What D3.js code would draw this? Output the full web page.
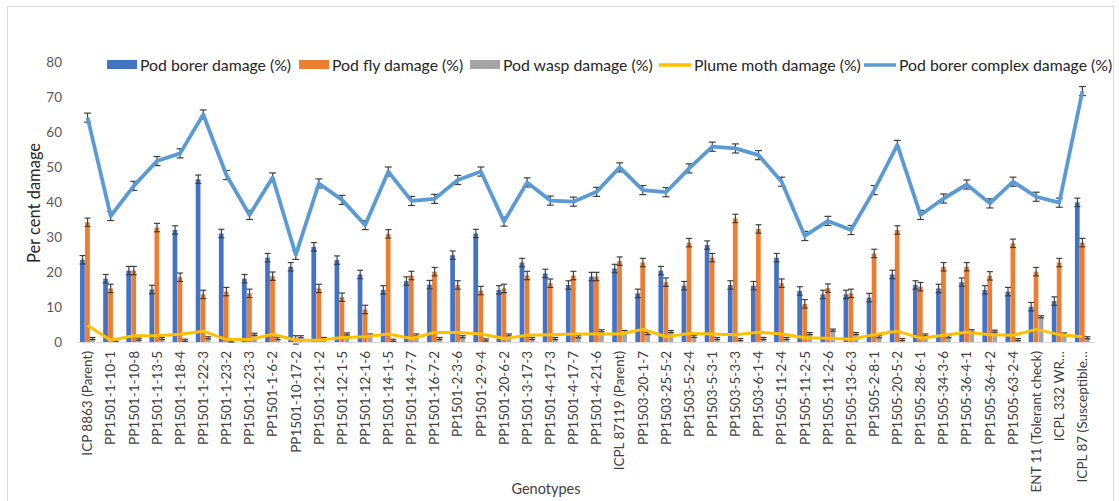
<!DOCTYPE html>
<html><head><meta charset="utf-8">
<script src="https://cdn.jsdelivr.net/npm/d3@7"></script>
<style>body{margin:0;background:#fff}svg{display:block}text{font-family:Lato,"Open Sans",sans-serif}</style>
</head><body><svg id="c" width="1119" height="501"></svg>
<script>
const categories = ["ICP 8863 (Parent)","PP1501-1-10-1","PP1501-1-10-8","PP1501-1-13-5","PP1501-1-18-4","PP1501-1-22-3","PP1501-1-23-2","PP1501-1-23-3","PP1501-1-6-2","PP1501-10-17-2","PP1501-12-1-2","PP1501-12-1-5","PP1501-12-1-6","PP1501-14-1-5","PP1501-14-7-7","PP1501-16-7-2","PP1501-2-3-6","PP1501-2-9-4","PP1501-20-6-2","PP1501-3-17-3","PP1501-4-17-3","PP1501-4-17-7","PP1501-4-21-6","ICPL 87119 (Parent)","PP1503-20-1-7","PP1503-25-5-2","PP1503-5-2-4","PP1503-5-3-1","PP1503-5-3-3","PP1503-6-1-4","PP1505-11-2-4","PP1505-11-2-5","PP1505-11-2-6","PP1505-13-6-3","PP1505-2-8-1","PP1505-20-5-2","PP1505-28-6-1","PP1505-34-3-6","PP1505-36-4-1","PP1505-36-4-2","PP1505-63-2-4","ENT 11 (Tolerant check)","ICPL 332 WR…","ICPL 87 (Susceptible…"];
const podBorer = [23.5,18.1,20.4,15.0,32.0,46.5,31.0,18.1,24.1,21.5,27.2,23.4,19.3,14.9,17.4,16.4,24.8,31.0,14.9,22.7,19.6,16.3,18.7,21.0,13.9,20.4,16.1,27.7,16.3,16.1,24.1,14.6,13.6,13.6,12.7,19.3,16.3,15.3,17.1,14.9,14.4,10.1,11.7,39.9];
const podFly = [34.2,15.3,20.4,32.7,18.5,13.6,14.4,13.9,18.8,0.6,15.3,12.8,9.3,30.9,19.0,20.1,16.3,14.7,15.3,19.0,16.8,19.0,18.7,23.1,22.7,17.1,28.4,24.1,35.3,32.3,16.8,10.9,15.4,13.9,25.3,32.0,15.8,21.5,21.5,18.9,28.2,20.1,22.7,28.4];
const podWasp = [1.0,0.5,0.8,1.0,0.5,1.2,0.3,2.2,1.0,1.5,1.0,2.3,2.0,0.5,2.0,1.0,1.5,0.6,2.0,1.0,1.0,1.5,3.2,3.0,2.4,3.0,1.6,1.0,0.7,1.0,1.0,2.4,3.4,2.4,1.5,0.7,2.0,1.5,3.2,3.1,0.7,7.2,2.3,1.2];
const plumeMoth = [4.7,0.5,1.8,1.8,2.2,3.1,0.7,0.7,2.2,0.5,0.5,1.3,1.5,2.3,1.0,2.7,2.7,2.3,1.0,1.9,2.1,2.3,2.3,2.3,3.6,1.5,2.4,2.3,2.1,2.8,2.3,1.2,1.1,0.8,2.1,3.1,1.1,1.9,2.8,2.1,1.9,3.6,2.1,1.5];
const podBorerComplex = [64.1,36.0,44.6,51.7,53.9,65.0,47.7,36.3,47.0,24.9,45.3,40.6,33.4,48.7,40.3,40.9,46.3,48.7,34.4,45.6,40.4,40.1,42.9,49.9,43.4,42.8,49.6,55.8,55.3,53.4,45.8,30.3,34.6,32.0,43.4,56.3,36.3,41.0,45.0,39.6,45.8,41.5,39.8,71.7];
const seriesErrors = {borer:1.2, fly:1.2, wasp:0.3, complex:1.3};
const yTicks = [0,10,20,30,40,50,60,70,80];
const seriesNames = ["Pod borer damage (%)","Pod fly damage (%)","Pod wasp damage (%)","Plume moth damage (%)","Pod borer complex damage (%)"];
const colors = ["#4472C4","#ED7D31","#A5A5A5","#FFC000","#5B9BD5"];

const svg = d3.select("#c");
svg.append("rect").attr("x",7.5).attr("y",6.5).attr("width",1106).attr("height",520).attr("fill","none").attr("stroke","#d9d9d9");

const x = d3.scaleBand().domain(categories).range([76,1094]).paddingInner(0).paddingOuter(0);
const y = d3.scaleLinear().domain([0,80]).range([342,62]);
const barKeys = ["borer","fly","wasp"];
const xs = d3.scaleBand().domain(barKeys).range([0,x.bandwidth()]).paddingInner(0).paddingOuter(0.81);
const barData = {borer:podBorer, fly:podFly, wasp:podWasp};

const ya = svg.append("g").attr("transform","translate(70,0)").call(d3.axisLeft(y).tickValues(yTicks).tickSize(0).tickPadding(8));
ya.select(".domain").remove();
ya.selectAll("text").attr("font-size",13.5).attr("fill","#595959").attr("font-family","Lato");

barKeys.forEach((k,si)=>{
  svg.append("g").selectAll("rect").data(categories).join("rect")
    .attr("x",d=>x(d)+xs(k)).attr("width",xs.bandwidth()-0.3)
    .attr("y",(d,i)=>y(barData[k][i])).attr("height",(d,i)=>y(0)-y(barData[k][i]))
    .attr("fill",colors[si]);
});
const xa = svg.append("g").attr("transform","translate(0,342)").call(d3.axisBottom(x).tickSize(0).tickPadding(0));
xa.select(".domain").attr("stroke","#d9d9d9").attr("stroke-width",1);
xa.selectAll("text").attr("font-size",13.5).attr("fill","#404040").attr("font-family","Lato")
  .attr("transform","rotate(-90)").attr("text-anchor","end").attr("dx","-9").attr("dy","0.35em").attr("y",0).attr("x",0);

const errG = svg.append("g").attr("stroke","#404040").attr("stroke-width",1.2);
barKeys.forEach(k=>{
  categories.forEach((c,i)=>{
    const cx = x(c)+xs(k)+xs.bandwidth()/2, v = barData[k][i], e = seriesErrors[k];
    errG.append("line").attr("x1",cx).attr("x2",cx).attr("y1",y(v+e)).attr("y2",y(Math.max(0,v-e)));
    errG.append("line").attr("x1",cx-3).attr("x2",cx+3).attr("y1",y(v+e)).attr("y2",y(v+e));
    errG.append("line").attr("x1",cx-3).attr("x2",cx+3).attr("y1",y(v-e)).attr("y2",y(v-e));
  });
});

const cxf = c => x(c)+x.bandwidth()/2;
const line = d3.line().x(d=>cxf(d[0])).y(d=>y(d[1]));
svg.append("path").datum(categories.map((c,i)=>[c,plumeMoth[i]])).attr("d",line)
  .attr("fill","none").attr("stroke",colors[3]).attr("stroke-width",3).attr("stroke-linejoin","round");
svg.append("path").datum(categories.map((c,i)=>[c,podBorerComplex[i]])).attr("d",line)
  .attr("fill","none").attr("stroke",colors[4]).attr("stroke-width",3.8).attr("stroke-linejoin","round");
categories.forEach((c,i)=>{
  const cx = cxf(c), v = podBorerComplex[i], e = seriesErrors.complex;
  errG.append("line").attr("x1",cx).attr("x2",cx).attr("y1",y(v+e)).attr("y2",y(v-e));
  errG.append("line").attr("x1",cx-3.5).attr("x2",cx+3.5).attr("y1",y(v+e)).attr("y2",y(v+e));
  errG.append("line").attr("x1",cx-3.5).attr("x2",cx+3.5).attr("y1",y(v-e)).attr("y2",y(v-e));
});

const legX = [107,299,470,659,864];
const lg = svg.append("g");
seriesNames.forEach((n,i)=>{
  const g = lg.append("g").attr("transform",`translate(${legX[i]},0)`);
  if(i<3) g.append("rect").attr("x",0).attr("y",60).attr("width",30).attr("height",9).attr("fill",colors[i]);
  else g.append("line").attr("x1",0).attr("x2",32).attr("y1",65).attr("y2",65).attr("stroke",colors[i]).attr("stroke-width",3.5);
  g.append("text").attr("x",i<3?33:35).attr("y",70.5).attr("font-size",15.8).attr("fill","#262626").text(n);
});

svg.append("text").attr("transform","translate(40,203) rotate(-90)").attr("text-anchor","middle").attr("font-size",16.5).attr("fill","#262626").text("Per cent damage");
svg.append("text").attr("x",546).attr("y",494).attr("text-anchor","middle").attr("font-size",14.5).attr("fill","#404040").text("Genotypes");
</script></body></html>
